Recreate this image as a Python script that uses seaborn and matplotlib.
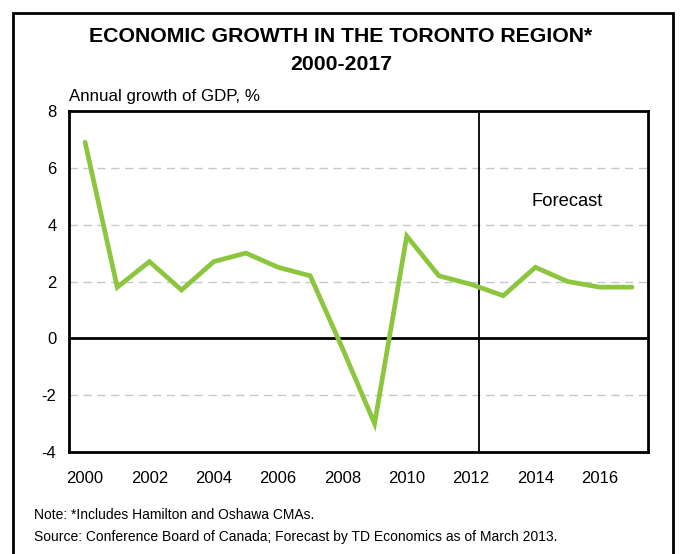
import matplotlib
matplotlib.use("Agg")
import matplotlib.pyplot as plt
from matplotlib.patches import Rectangle
import seaborn as sns
import pandas as pd

years = list(range(2000, 2018))
gdp_growth = [6.9, 1.8, 2.7, 1.7, 2.7, 3.0, 2.5, 2.2, -0.35, -3.0,
              3.6, 2.2, 1.9, 1.5, 2.5, 2.0, 1.8, 1.8]
xtick_years = [2000, 2002, 2004, 2006, 2008, 2010, 2012, 2014, 2016]
yticks = [-4, -2, 0, 2, 4, 6, 8]
forecast_start = 2012.25

sns.set_theme(style="white")
plt.rcParams["font.family"] = ["Liberation Sans", "DejaVu Sans"]
plt.rcParams["text.color"] = "black"

df = pd.DataFrame({"year": years, "growth": gdp_growth})

fig = plt.figure(figsize=(6.81, 5.54), dpi=100)
ax = fig.add_axes([69 / 681, 1 - 452 / 554, (648 - 69) / 681, (452 - 111) / 554])

# light dashed gridlines
for y in [-2, 2, 4, 6]:
    ax.axhline(y, color="#c8c8c8", lw=1, ls=(0, (6, 4)), zorder=1)
ax.axhline(0, color="black", lw=2, zorder=2)
ax.axvline(forecast_start, color="black", lw=1.3, zorder=2)

sns.lineplot(data=df, x="year", y="growth", color="#8cc63f", lw=3.4,
             ax=ax, zorder=3, solid_capstyle="round", solid_joinstyle="miter")

ax.set_xlim(1999.5, 2017.5)
ax.set_ylim(-4, 8)
ax.set_xticks(xtick_years)
ax.set_xticklabels([str(y) for y in xtick_years], fontsize=12)
ax.set_yticks(yticks)
ax.set_yticklabels([str(y) for y in yticks], fontsize=12)
ax.tick_params(axis="x", length=0, pad=14, colors="black")
ax.tick_params(axis="y", length=0, pad=9, colors="black")
ax.set_xlabel("")
ax.set_ylabel("")
for s in ax.spines.values():
    s.set_color("black")
    s.set_linewidth(2)

ax.text(2015.0, 4.8, "Forecast", fontsize=13.2, ha="center", va="center", color="black")

fig.text(69 / 681, 1 - 97 / 554, "Annual growth of GDP, %", fontsize=12.2,
         ha="left", va="center", color="black")
fig.text(341 / 681, 1 - 36 / 554, "ECONOMIC GROWTH IN THE TORONTO REGION*",
         fontsize=15.3, fontweight="bold", ha="center", va="center", color="black")
fig.text(341 / 681, 1 - 65 / 554, "2000-2017",
         fontsize=15.3, fontweight="bold", ha="center", va="center", color="black")
fig.text(34 / 681, 1 - 515 / 554, "Note: *Includes Hamilton and Oshawa CMAs.",
         fontsize=10, ha="left", va="center", color="black")
fig.text(34 / 681, 1 - 537 / 554,
         "Source: Conference Board of Canada; Forecast by TD Economics as of March 2013.",
         fontsize=10, ha="left", va="center", color="black")

# outer frame
fig.patches.append(Rectangle((13 / 681, -0.05), (673 - 13) / 681, 1 - 13 / 554 + 0.05,
                             transform=fig.transFigure, fill=False,
                             edgecolor="black", lw=2, clip_on=False))

fig.savefig("out.png", dpi=100)
